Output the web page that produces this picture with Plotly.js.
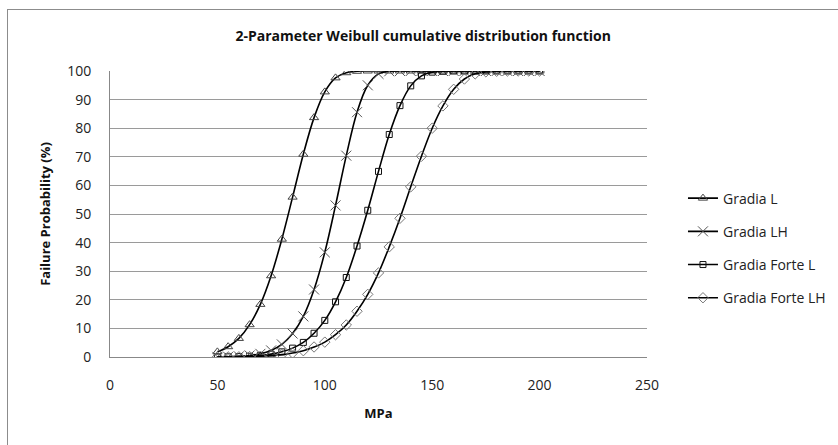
<!DOCTYPE html>
<html>
<head>
<meta charset="utf-8">
<script src="https://cdn.plot.ly/plotly-3.0.1.min.js"></script>
<style>
  html, body { margin: 0; padding: 0; background: #fff; }
  #wrap { position: relative; width: 838px; height: 445px; overflow: hidden; }
  #chart { position: absolute; left: 0; top: 0; width: 838px; height: 445px; }
  #frame { position: absolute; left: 7px; top: 9px; width: 840px; height: 450px;
           border-left: 1px solid #8c8c8c; border-top: 1px solid #8c8c8c; pointer-events: none; }
</style>
</head>
<body>
<div id="wrap">
  <div id="chart"></div>
  <div id="frame"></div>
</div>
<script>
const mpa = [50,55,60,65,70,75,80,85,90,95,100,105,110,115,120,125,130,135,140,145,150,155,160,165,170,175,180,185,190,195,200];

const gradiaL = [1.8,3.6,6.5,11.3,18.4,28.4,41.2,55.9,70.9,83.7,92.7,97.6,99.4,99.9,100,100,100,100,100,100,100,100,100,100,100,100,100,100,100,100,100];
const gradiaLH = [0.04,0.09,0.23,0.53,1.1,2.3,4.4,8.2,14.2,23.6,36.6,53.0,70.4,85.6,95.0,99.0,99.9,100,100,100,100,100,100,100,100,100,100,100,100,100,100];
const forteL = [0.02,0.06,0.13,0.27,0.53,1.0,1.8,3.1,5.1,8.3,12.8,19.3,27.8,38.8,51.3,64.9,77.8,87.9,94.8,98.3,99.6,99.9,100,100,100,100,100,100,100,100,100];
const forteLH = [0.02,0.04,0.07,0.15,0.27,0.48,0.83,1.4,2.2,3.5,5.2,7.8,11.2,16.0,21.9,29.4,38.5,48.5,59.5,70.2,80.0,87.8,93.6,97.2,99.0,99.7,99.9,100,100,100,100];

const seriesNames = ["Gradia L","Gradia LH","Gradia Forte L","Gradia Forte LH"];
const xTicks = [0,50,100,150,200,250];
const yTicks = [0,10,20,30,40,50,60,70,80,90,100];

const FONT = "Open Sans, Liberation Sans, Arial, sans-serif";

function tr(name, y, symbol, mcolor, msize, mwidth, grp) {
  return {
    type: "scatter", mode: "lines+markers", name: name, x: mpa, y: y,
    legendgroup: grp,
    line: { color: "#000", width: 1.6, shape: "spline", smoothing: 1 },
    marker: { symbol: symbol, size: msize, color: mcolor,
              line: { color: mcolor, width: mwidth } }
  };
}

const data = [
  tr(seriesNames[0], gradiaL, "triangle-up-open", "#444", 8, 1, "a"),
  tr(seriesNames[1], gradiaLH, "x-thin-open", "#555", 10, 1, "b"),
  tr(seriesNames[2], forteL, "square-open", "#111", 6, 1, "c"),
  tr(seriesNames[3], forteLH, "diamond-open", "#777", 8, 1, "d")
];

const layout = {
  width: 838, height: 445,
  margin: { l: 110, r: 191, t: 71, b: 88, autoexpand: false },
  paper_bgcolor: "#fff", plot_bgcolor: "#fff",
  font: { family: FONT, size: 13, color: "#222" },
  title: { text: "2-Parameter Weibull cumulative distribution function",
           font: { family: FONT, size: 14, color: "#111", weight: "bold" },
           x: 0.505, xref: "container", xanchor: "center",
           y: 0.919, yref: "container", yanchor: "middle" },
  xaxis: {
    range: [0, 250], tickvals: xTicks, ticktext: xTicks.map(String),
    showgrid: false, zeroline: false, showline: true, linecolor: "#888", linewidth: 1,
    ticks: "", ticklabelstandoff: 15, tickfont: { size: 14, color: "#222" },
    title: { text: "MPa", font: { size: 13, color: "#111", weight: "bold" }, standoff: 16 },
    automargin: false, fixedrange: true
  },
  yaxis: {
    range: [0, 100], tickvals: yTicks, ticktext: yTicks.map(String),
    showgrid: true, gridcolor: "#9a9a9a", gridwidth: 1,
    zeroline: false, showline: true, linecolor: "#888", linewidth: 1,
    ticks: "", ticklabelstandoff: 15, tickfont: { size: 14, color: "#222" },
    title: { text: "Failure Probability (%)", font: { size: 13, color: "#111", weight: "bold" }, standoff: 13 },
    automargin: false, fixedrange: true
  },
  showlegend: true,
  legend: {
    x: 1.067, xanchor: "left", y: 0.61, yanchor: "top",
    traceorder: "grouped", tracegroupgap: 12,
    font: { size: 14, color: "#222" }, bgcolor: "rgba(0,0,0,0)", borderwidth: 0
  }
};

Plotly.newPlot("chart", data, layout, { displayModeBar: false, staticPlot: true });
</script>
</body>
</html>
